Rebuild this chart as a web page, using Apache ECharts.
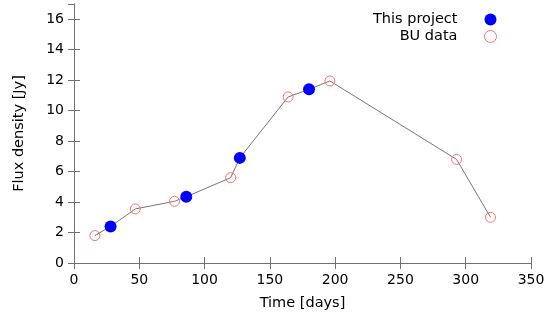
<!DOCTYPE html>
<html>
<head>
<meta charset="utf-8">
<script src="https://cdn.jsdelivr.net/npm/echarts@6/dist/echarts.min.js"></script>
<style>
  html, body { margin: 0; padding: 0; background: #fff; }
  #chart { width: 557px; height: 320px; }
</style>
</head>
<body>
<div id="chart"></div>
<script>
// values
const projectDays = [28, 86, 127, 180]
const projectFlux = [2.4, 4.35, 6.9, 11.4]
const buDays = [16, 47, 77, 120, 164, 196, 293, 319]
const buFlux = [1.8, 3.55, 4.05, 5.6, 10.9, 11.95, 6.8, 3.0]

const font = 'DejaVu Sans, sans-serif'
const frameColor = '#707070'
const buColor = '#ff6f6f'

// the grey line joins every point in time order
const joined = projectDays.map((d, i) => [d, projectFlux[i]])
  .concat(buDays.map((d, i) => [d, buFlux[i]]))
  .sort((a, b) => a[0] - b[0])

const chart = echarts.init(document.getElementById('chart'))

const axisCommon = {
  axisLine: { show: true, lineStyle: { color: frameColor, width: 1 } },
  axisTick: { show: true, inside: true, length: 6, lineStyle: { color: frameColor } },
  splitLine: { show: false },
}

chart.setOption({
  animation: false,
  backgroundColor: '#fff',
  grid: { left: 74, right: 26, top: 4, bottom: 57 },
  legend: {
    orient: 'vertical',
    right: 55,
    top: 7,
    align: 'right',
    itemGap: 2,
    itemWidth: 12,
    itemHeight: 12,
    textStyle: { fontFamily: font, fontSize: 14.5, color: '#000', padding: [0, 22, 0, 0] },
    data: [
      { name: 'This project' },
      { name: 'BU data', itemStyle: { borderWidth: 1 } },
    ],
  },
  xAxis: [
    {
      ...axisCommon,
      type: 'value',
      min: 0,
      max: 350,
      interval: 50,
      name: 'Time [days]',
      nameLocation: 'middle',
      nameGap: 33,
      nameTextStyle: { fontFamily: font, fontSize: 14.5, color: '#000' },
      axisLabel: { fontFamily: font, fontSize: 14, color: '#000', margin: 10 },
    },
    {
      ...axisCommon,
      type: 'value',
      position: 'top',
      min: 0,
      max: 350,
      interval: 50,
      axisLabel: { show: false },
    },
  ],
  yAxis: [
    {
      ...axisCommon,
      type: 'value',
      min: 0,
      max: 17,
      interval: 2,
      name: 'Flux density [Jy]',
      nameLocation: 'middle',
      nameGap: 47,
      nameTextStyle: { fontFamily: font, fontSize: 14.5, color: '#000' },
      axisLabel: { fontFamily: font, fontSize: 14, color: '#000', margin: 10, showMaxLabel: false },
    },
    {
      ...axisCommon,
      type: 'value',
      position: 'right',
      min: 0,
      max: 17,
      interval: 2,
      axisLabel: { show: false },
    },
  ],
  series: [
    {
      name: 'joined',
      type: 'line',
      data: joined,
      showSymbol: false,
      symbol: 'none',
      lineStyle: { color: '#777', width: 1 },
      silent: true,
      z: 1,
    },
    {
      name: 'This project',
      type: 'scatter',
      data: projectDays.map((d, i) => [d, projectFlux[i]]),
      symbol: 'circle',
      symbolSize: 12,
      itemStyle: { color: '#0000ff', opacity: 1 },
      z: 3,
    },
    {
      name: 'BU data',
      type: 'scatter',
      data: buDays.map((d, i) => [d, buFlux[i]]),
      symbol: 'circle',
      symbolSize: 10,
      itemStyle: { color: 'rgba(255,255,255,0)', borderColor: buColor, borderWidth: 1, opacity: 1 },
      z: 2,
    },
  ],
})
</script>
</body>
</html>
